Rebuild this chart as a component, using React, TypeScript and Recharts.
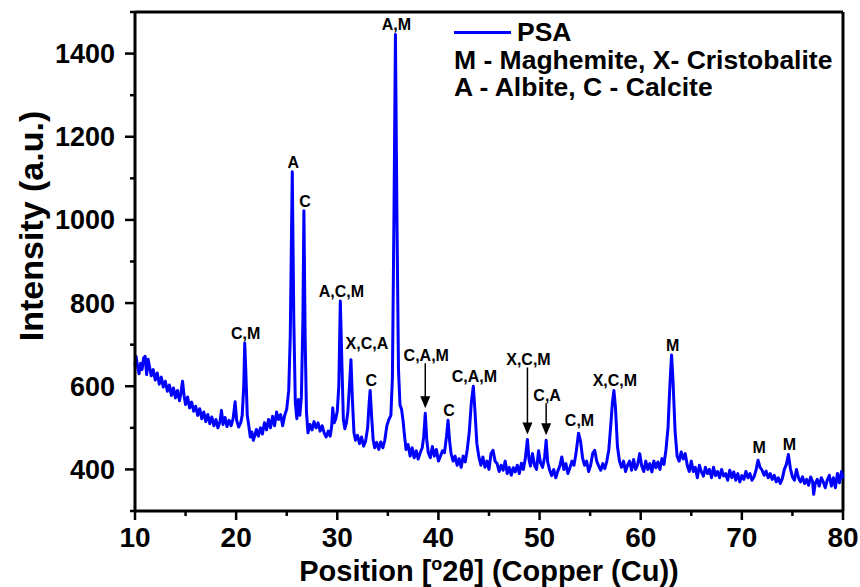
import React from 'react';
import { LineChart, Line, XAxis, YAxis, ReferenceLine, ReferenceDot, Legend } from 'recharts';

// PSA diffractogram, 2θ positions (degrees) and counts
const twoTheta = [
  10.0, 10.1, 10.25, 10.4, 10.55, 10.7, 10.85, 11.0, 11.15, 11.3, 11.45, 11.6, 11.8, 12.0, 12.2, 12.4, 12.6, 12.8,
  13.0, 13.2, 13.4, 13.6, 13.8, 14.0, 14.2, 14.4, 14.55, 14.7, 14.85, 15.0, 15.2, 15.4, 15.6, 15.8, 16.0, 16.2,
  16.4, 16.6, 16.8, 17.0, 17.2, 17.4, 17.6, 17.8, 18.0, 18.2, 18.4, 18.55, 18.7, 18.9, 19.1, 19.3, 19.5, 19.7,
  19.9, 20.05, 20.25, 20.45, 20.6, 20.75, 20.85, 20.95, 21.1, 21.25, 21.4, 21.55, 21.7, 21.85, 22.0, 22.2, 22.4,
  22.6, 22.8, 23.0, 23.2, 23.4, 23.6, 23.8, 24.0, 24.2, 24.4, 24.6, 24.8, 25.0, 25.2, 25.35, 25.55, 25.7, 25.85,
  26.0, 26.15, 26.3, 26.45, 26.6, 26.7, 26.82, 26.95, 27.1, 27.3, 27.5, 27.7, 27.9, 28.1, 28.3, 28.5, 28.7, 28.9,
  29.1, 29.3, 29.45, 29.55, 29.7, 29.85, 30.0, 30.15, 30.3, 30.45, 30.6, 30.75, 30.9, 31.05, 31.2, 31.35, 31.5,
  31.65, 31.8, 32.0, 32.2, 32.4, 32.6, 32.8, 33.0, 33.15, 33.25, 33.4, 33.55, 33.7, 33.9, 34.1, 34.3, 34.5, 34.7,
  34.9, 35.1, 35.3, 35.45, 35.6, 35.75, 35.9, 36.05, 36.2, 36.35, 36.5, 36.65, 36.8, 37.0, 37.2, 37.4, 37.6, 37.8,
  38.0, 38.2, 38.4, 38.55, 38.7, 38.85, 39.0, 39.2, 39.4, 39.6, 39.8, 40.0, 40.2, 40.4, 40.6, 40.8, 40.95, 41.1,
  41.25, 41.45, 41.65, 41.85, 42.05, 42.25, 42.45, 42.65, 42.85, 43.05, 43.25, 43.45, 43.6, 43.8, 44.0, 44.2,
  44.4, 44.6, 44.8, 45.0, 45.2, 45.4, 45.6, 45.8, 46.0, 46.2, 46.4, 46.6, 46.8, 47.0, 47.2, 47.4, 47.6, 47.8,
  48.0, 48.2, 48.4, 48.6, 48.8, 48.95, 49.1, 49.3, 49.5, 49.7, 49.9, 50.1, 50.3, 50.5, 50.65, 50.8, 51.0, 51.2,
  51.4, 51.6, 51.8, 52.0, 52.2, 52.4, 52.6, 52.8, 53.0, 53.2, 53.4, 53.6, 53.85, 54.05, 54.25, 54.45, 54.65,
  54.85, 55.05, 55.25, 55.45, 55.65, 55.85, 56.05, 56.25, 56.45, 56.65, 56.85, 57.05, 57.2, 57.35, 57.5, 57.7,
  57.9, 58.1, 58.3, 58.5, 58.7, 58.9, 59.1, 59.3, 59.5, 59.7, 59.9, 60.1, 60.3, 60.5, 60.7, 60.9, 61.1, 61.3,
  61.5, 61.7, 61.9, 62.1, 62.3, 62.5, 62.7, 62.9, 63.05, 63.2, 63.4, 63.6, 63.8, 64.0, 64.2, 64.4, 64.6, 64.8,
  65.0, 65.2, 65.4, 65.6, 65.8, 66.0, 66.2, 66.4, 66.6, 66.8, 67.0, 67.2, 67.4, 67.6, 67.8, 68.0, 68.2, 68.4,
  68.6, 68.8, 69.0, 69.2, 69.4, 69.6, 69.8, 70.0, 70.2, 70.4, 70.6, 70.8, 71.0, 71.2, 71.4, 71.6, 71.8, 72.0,
  72.2, 72.4, 72.6, 72.8, 73.0, 73.2, 73.4, 73.6, 73.8, 74.0, 74.2, 74.4, 74.6, 74.8, 75.0, 75.2, 75.4, 75.6,
  75.8, 76.0, 76.2, 76.4, 76.6, 76.8, 77.0, 77.1, 77.25, 77.45, 77.65, 77.85, 78.05, 78.25, 78.45, 78.65, 78.85,
  79.05, 79.25, 79.45, 79.65, 79.85, 80.0,
];

const intensity = [
  650, 672, 648, 630, 655, 640, 668, 672, 628, 665, 645, 625, 640, 615, 632, 605, 622, 598,
  612, 588, 603, 578, 596, 572, 590, 565, 585, 612, 578, 556, 574, 548, 562, 540, 552, 530,
  546, 522, 538, 515, 532, 510, 526, 505, 520, 500, 515, 542, 508, 525, 503, 518, 505, 522,
  563, 518, 502, 512, 530, 600, 704, 640, 530, 505, 478, 490, 470, 482, 496, 480, 500,
  485, 512, 495, 520, 500, 528, 505, 538, 520, 532, 505, 530, 545, 590, 720, 1116, 760, 560,
  522, 568, 530, 575, 760, 1022, 720, 540, 488, 508, 495, 515, 500, 512, 492, 505, 488, 478,
  492, 480, 505, 548, 512, 522, 540, 600, 805, 660, 520, 498, 512, 540, 600, 664, 565,
  488, 470, 482, 462, 478, 456, 468, 500, 560, 590, 525, 470, 452, 465, 448, 466, 452, 470,
  505, 520, 530, 620, 1000, 1446, 1000, 640, 555, 545, 518, 480, 448, 460, 432, 452, 428, 445,
  425, 440, 452, 480, 535, 470, 440, 428, 455, 432, 448, 420, 432, 445, 440, 480, 518, 470,
  438, 420, 432, 410, 426, 405, 432, 418, 448, 490, 560, 600, 545, 462, 430, 410,
  430, 405, 420, 400, 438, 446, 420, 414, 395, 410, 398, 420, 390, 405, 386, 404, 394, 410,
  390, 415, 400, 428, 472, 425, 408, 438, 410, 400, 445, 415, 405, 430, 470, 418, 398, 385,
  400, 380, 396, 408, 430, 400, 414, 390, 404, 420, 410, 438, 487, 468, 428, 410, 420,
  395, 410, 438, 446, 420, 408, 398, 414, 402, 420, 448, 510, 560, 590, 550, 455,
  420, 405, 420, 395, 410, 420, 398, 424, 400, 412, 438, 408, 395, 420, 400, 414, 394, 420,
  404, 418, 400, 426, 412, 448, 500, 610, 675, 610, 490, 432, 420, 442, 425, 438, 410, 395,
  420, 395, 405, 380, 410, 394, 384, 405, 390, 400, 380, 405, 385, 395, 380, 400, 384, 390,
  374, 398, 380, 394, 374, 390, 370, 385, 376, 395, 380, 390, 374, 382, 398, 422, 405, 398,
  386, 396, 380, 390, 376, 386, 370, 380, 366, 378, 400, 412, 436, 402, 382, 374, 400, 380,
  370, 382, 366, 376, 362, 382, 370, 340, 366, 376, 360, 380, 370, 356, 375, 386, 360,
  380, 356, 390, 368, 395, 378,
];

// phase assignments above the reflections
const peakPositions = [20.85, 25.55, 26.7, 30.3, 31.35, 33.25, 35.75, 38.7, 40.95, 43.45, 48.8, 50.65, 53.85, 57.35, 63.05, 71.6, 74.6];
const peakIntensities = [704, 1116, 1022, 805, 664, 590, 1446, 535, 518, 600, 472, 470, 487, 590, 675, 422, 436];
const peakPhases = ['C,M', 'A', 'C', 'A,C,M', 'X,C,A', 'C', 'A,M', 'C,A,M', 'C', 'C,A,M', 'X,C,M', 'C,A', 'C,M', 'X,C,M', 'M', 'M', 'M'];

const xTicks = [10, 15, 20, 25, 30, 35, 40, 45, 50, 55, 60, 65, 70, 75, 80];
const yTicks = [300, 400, 500, 600, 700, 800, 900, 1000, 1100, 1200, 1300, 1400, 1500];

const data = twoTheta.map((x, i) => ({ x, y: intensity[i] }));

const FONT = '"Liberation Sans", Arial, Helvetica, sans-serif';
const BLUE = '#0000ff';

// labels that sit higher with an arrow down to the peak (lift in px)
const arrowLift: Record<number, number> = { 38.7: 58, 48.8: 80, 50.65: 45 };
const labelShift: Record<number, { dx: number; dy: number }> = {
  31.35: { dx: 15, dy: 7 },
  53.85: { dx: 0, dy: 3 },
  71.6: { dx: 0, dy: 3 },
};

const XTick = (props: any) => {
  const { x, y, payload } = props;
  const major = payload.value % 10 === 0;
  return (
    <g>
      <line x1={x} x2={x} y1={y} y2={y + (major ? 9 : 5)} stroke="#000" strokeWidth={2.5} />
      {major && (
        <text x={x} y={y + 36} textAnchor="middle" fontFamily={FONT} fontWeight={700} fontSize={28} fill="#000">
          {payload.value}
        </text>
      )}
    </g>
  );
};

const YTick = (props: any) => {
  const { x, y, payload } = props;
  const major = payload.value % 200 === 0;
  return (
    <g>
      <line x1={x} x2={x - (major ? 10 : 5)} y1={y} y2={y} stroke="#000" strokeWidth={2.5} />
      {major && (
        <text x={x - 20} y={y + 9.5} textAnchor="end" fontFamily={FONT} fontWeight={700} fontSize={27} fill="#000">
          {payload.value}
        </text>
      )}
    </g>
  );
};

const PeakLabel = (text: string, pos: number) => (props: any) => {
  const { cx, cy } = props;
  const lift = arrowLift[pos];
  const shift = labelShift[pos] || { dx: 0, dy: 0 };
  if (lift) {
    const top = cy - lift + 8;
    const tip = cy - 5;
    return (
      <g>
        <text x={cx + 1} y={cy - lift + 6} textAnchor="middle" fontFamily={FONT} fontWeight={700} fontSize={16} fill="#000">
          {text}
        </text>
        <line x1={cx} x2={cx} y1={top} y2={tip - 10} stroke="#000" strokeWidth={1.5} />
        <path d={`M ${cx - 5} ${tip - 12} L ${cx + 5} ${tip - 12} L ${cx} ${tip} Z`} fill="#000" />
      </g>
    );
  }
  return (
    <text x={cx + 1 + shift.dx} y={cy - 4 - shift.dy} textAnchor="middle" fontFamily={FONT} fontWeight={700} fontSize={16} fill="#000">
      {text}
    </text>
  );
};

const LegendBox = () => (
  <div style={{ fontFamily: FONT, fontWeight: 700, fontSize: 26.5, lineHeight: '27.5px', color: '#000', whiteSpace: 'nowrap' }}>
    <div style={{ display: 'flex', alignItems: 'center' }}>
      <span style={{ display: 'inline-block', width: 57, height: 3, background: BLUE, marginRight: 6 }} />
      PSA
    </div>
    <div>M - Maghemite, X- Cristobalite</div>
    <div>A - Albite, C - Calcite</div>
  </div>
);

export default function App() {
  return (
    <div style={{ position: 'absolute', left: 0, top: 0, background: '#fff' }}>
      <LineChart width={860} height={587} data={data} margin={{ top: 12, right: 17, bottom: 0, left: 0 }}>
        <XAxis
          dataKey="x"
          type="number"
          domain={[10, 80]}
          ticks={xTicks}
          interval={0}
          height={76}
          tickSize={0}
          tickMargin={0}
          tick={<XTick />}
          tickLine={false}
          axisLine={{ stroke: '#000', strokeWidth: 3 }}
          label={{
            content: () => (
              <text x={489} y={581} textAnchor="middle" fontFamily={FONT} fontWeight={700} fontSize={29} fill="#000">
                Position [<tspan fontSize={18} dy={-11}>o</tspan>
                <tspan dy={11}>2θ] (Copper (Cu))</tspan>
              </text>
            ),
          }}
        />
        <YAxis
          type="number"
          domain={[300, 1500]}
          ticks={yTicks}
          interval={0}
          width={135}
          tickSize={0}
          tickMargin={0}
          tick={<YTick />}
          tickLine={false}
          axisLine={{ stroke: '#000', strokeWidth: 3 }}
          label={{
            content: () => (
              <text
                x={31}
                y={226}
                transform="rotate(-90 31 226)"
                textAnchor="middle"
                dominantBaseline="central"
                fontFamily={FONT}
                fontWeight={700}
                fontSize={34}
                fill="#000"
              >
                Intensity (a.u.)
              </text>
            ),
          }}
        />
        <ReferenceLine y={1500} stroke="#000" strokeWidth={3} />
        <ReferenceLine x={80} stroke="#000" strokeWidth={3} />
        <Line type="linear" dataKey="y" stroke={BLUE} strokeWidth={3} strokeLinejoin="round" dot={false} isAnimationActive={false} />
        {peakPositions.map((p, i) => (
          <ReferenceDot key={p} x={p} y={peakIntensities[i]} r={0} shape={PeakLabel(peakPhases[i], p)} />
        ))}
        <Legend
          layout="vertical"
          align="center"
          verticalAlign="middle"
          content={<LegendBox />}
          wrapperStyle={{ position: 'absolute', left: 454, top: 19, width: 400 }}
        />
      </LineChart>
    </div>
  );
}
